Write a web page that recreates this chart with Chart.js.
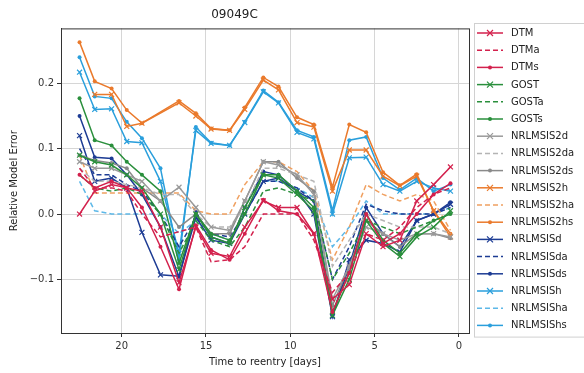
<!DOCTYPE html>
<html>
<head>
<meta charset="utf-8">
<script src="https://cdn.jsdelivr.net/npm/chart.js@4.4.0/dist/chart.umd.min.js"></script>
<style>
  html, body { margin: 0; padding: 0; background: #fff; }
  #wrap { width: 584px; height: 373px; }
</style>
</head>
<body>
<div id="wrap"><canvas id="chartOne"></canvas></div>
<script>
// time to reentry [days]
const days = [22.5, 21.6, 20.6, 19.7, 18.8, 17.7, 16.6, 15.6, 14.7, 13.6, 12.7, 11.6,
              10.7, 9.6, 8.6, 7.5, 6.5, 5.5, 4.5, 3.5, 2.5, 1.5, 0.5];
const xTicks = [0, 5, 10, 15, 20];
const yTicks = [-0.1, 0.0, 0.1, 0.2];

const DTM   = [0.0, 0.035, 0.045, 0.04, 0.035, -0.02, -0.105, -0.02, -0.06, -0.065, -0.02, 0.02, 0.01, 0.01, -0.03, -0.13, -0.108, -0.03, -0.05, -0.04, 0.02, 0.045, 0.072];
const DTMa  = [0.07, 0.04, 0.04, 0.035, 0.0, -0.035, -0.027, -0.02, -0.073, -0.07, -0.05, 0.0, 0.0, 0.0, -0.04, -0.12, -0.09, -0.03, -0.04, -0.02, 0.01, 0.03, 0.04];
const DTMs  = [0.06, 0.04, 0.05, 0.04, 0.01, -0.05, -0.115, -0.017, -0.055, -0.07, -0.03, 0.022, 0.005, 0.0, -0.03, -0.15, -0.09, 0.0, -0.045, -0.03, 0.0, 0.03, 0.047];
const GOST  = [0.09, 0.08, 0.075, 0.06, 0.04, 0.0, -0.085, 0.0, -0.035, -0.045, 0.01, 0.06, 0.055, 0.03, 0.005, -0.155, -0.1, -0.01, -0.045, -0.065, -0.035, -0.02, 0.005];
const GOSTa = [0.06, 0.04, 0.035, 0.04, 0.03, 0.0, -0.06, -0.01, -0.04, -0.05, -0.02, 0.035, 0.04, 0.03, 0.02, -0.1, -0.06, -0.01, -0.02, -0.03, -0.02, -0.01, 0.0];
const GOSTs = [0.177, 0.113, 0.105, 0.08, 0.06, 0.035, -0.075, 0.0, -0.03, -0.04, 0.0, 0.06, 0.06, 0.035, 0.01, -0.15, -0.09, 0.0, -0.04, -0.06, -0.03, -0.01, 0.0];
const NRLMSIS2d  = [0.08, 0.07, 0.07, 0.06, 0.05, 0.02, 0.041, 0.01, -0.02, -0.025, 0.02, 0.08, 0.075, 0.06, 0.03, -0.13, -0.08, -0.02, -0.03, -0.04, -0.03, -0.03, -0.035];
const NRLMSIS2da = [0.07, 0.05, 0.05, 0.045, 0.04, 0.03, 0.03, 0.0, -0.02, -0.02, 0.01, 0.07, 0.07, 0.06, 0.05, -0.08, -0.04, 0.0, -0.01, -0.02, -0.02, -0.02, -0.03];
const NRLMSIS2ds = [0.09, 0.082, 0.078, 0.07, 0.04, 0.02, -0.02, 0.0, -0.03, -0.03, 0.02, 0.08, 0.08, 0.055, 0.035, -0.14, -0.08, -0.01, -0.03, -0.05, -0.03, -0.03, -0.037];
const NRLMSIS2h  = [null, 0.183, 0.183, 0.134, 0.139, null, 0.17, 0.15, 0.13, 0.128, 0.16, 0.205, 0.19, 0.14, 0.133, 0.035, 0.098, 0.098, 0.058, 0.043, 0.058, 0.005, -0.035];
const NRLMSIS2ha = [0.09, 0.032, 0.032, 0.032, 0.032, 0.032, 0.032, 0.005, 0.0, 0.0, 0.045, 0.08, 0.08, 0.065, 0.035, -0.07, -0.02, 0.045, 0.03, 0.02, 0.03, 0.02, -0.025];
const NRLMSIS2hs = [0.263, 0.203, 0.192, 0.159, 0.139, null, 0.173, 0.154, 0.131, 0.128, 0.163, 0.209, 0.195, 0.148, 0.137, 0.041, 0.137, 0.125, 0.064, 0.044, 0.061, 0.005, -0.03];
const NRLMSISd  = [0.12, 0.05, 0.055, 0.04, -0.028, -0.093, -0.095, -0.005, -0.04, -0.045, 0.0, 0.05, 0.055, 0.035, 0.0, -0.157, -0.07, -0.04, -0.045, -0.058, -0.01, 0.0, 0.015];
const NRLMSISda = [0.1, 0.06, 0.06, 0.045, 0.035, 0.0, -0.05, -0.005, -0.03, -0.035, 0.0, 0.05, 0.05, 0.04, 0.02, -0.1, -0.05, 0.015, 0.005, 0.0, 0.0, 0.0, 0.01];
const NRLMSISds = [0.15, 0.087, 0.085, 0.06, 0.03, -0.02, -0.096, 0.003, -0.035, -0.045, 0.01, 0.065, 0.06, 0.035, 0.02, -0.155, -0.08, 0.01, -0.03, -0.05, -0.01, 0.0, 0.018];
const NRLMSISh  = [0.217, 0.16, 0.161, 0.111, 0.109, 0.05, -0.06, 0.128, 0.108, 0.105, 0.14, 0.187, 0.17, 0.125, 0.115, 0.0, 0.086, 0.087, 0.045, 0.035, 0.05, 0.04, 0.035];
const NRLMSISha = [0.05, 0.005, 0.0, 0.0, 0.0, 0.0, -0.03, -0.01, -0.03, -0.04, 0.0, 0.05, 0.05, 0.04, 0.025, -0.05, -0.02, 0.02, 0.0, 0.0, 0.0, 0.0, 0.01];
const NRLMSIShs = [0.24, 0.18, 0.177, 0.141, 0.116, 0.07, -0.07, 0.133, 0.109, 0.105, 0.141, 0.189, 0.171, 0.128, 0.118, 0.005, 0.113, 0.118, 0.055, 0.037, 0.055, 0.035, 0.045];

const red = '#d3214d', green = '#2a8f3c', grey = '#9a9a9a', orange = '#ea7a2c', navy = '#1d3c94', sky = '#2a9fdc';

function ds(label, vals, color, kind) {
  let d = {
    label: label,
    data: days.map((t, i) => ({x: t, y: vals[i]})),
    borderColor: color,
    backgroundColor: color,
    borderWidth: 1.5,
    spanGaps: true,
    tension: 0,
    kind: kind
  };
  if (kind == 'x') { d.pointStyle = 'crossRot'; d.pointRadius = 3.5; d.pointBorderWidth = 1.2; }
  if (kind == 'a') { d.pointRadius = 0; d.borderDash = [5, 3]; }
  if (kind == 's') { d.pointStyle = 'circle'; d.pointRadius = 2; d.pointBorderWidth = 0; }
  return d;
}

const datasets = [
  ds('DTM', DTM, red, 'x'), ds('DTMa', DTMa, red, 'a'), ds('DTMs', DTMs, red, 's'),
  ds('GOST', GOST, green, 'x'), ds('GOSTa', GOSTa, green, 'a'), ds('GOSTs', GOSTs, green, 's'),
  ds('NRLMSIS2d', NRLMSIS2d, grey, 'x'), ds('NRLMSIS2da', NRLMSIS2da, '#b4b4b4', 'a'), ds('NRLMSIS2ds', NRLMSIS2ds, '#8a8a8a', 's'),
  ds('NRLMSIS2h', NRLMSIS2h, orange, 'x'), ds('NRLMSIS2ha', NRLMSIS2ha, '#f0a060', 'a'), ds('NRLMSIS2hs', NRLMSIS2hs, orange, 's'),
  ds('NRLMSISd', NRLMSISd, navy, 'x'), ds('NRLMSISda', NRLMSISda, navy, 'a'), ds('NRLMSISds', NRLMSISds, navy, 's'),
  ds('NRLMSISh', NRLMSISh, sky, 'x'), ds('NRLMSISha', NRLMSISha, '#5db8e8', 'a'), ds('NRLMSIShs', NRLMSIShs, sky, 's')
];

// frame around the plot + matplotlib style legend box on the right
const framePlugin = {
  id: 'frame',
  afterDraw(chart) {
    const ctx = chart.ctx, a = chart.chartArea;
    ctx.save();
    ctx.strokeStyle = '#333';
    ctx.lineWidth = 1;
    ctx.strokeRect(a.left + 0.5, a.top + 0.5, a.right - a.left, a.bottom - a.top);

    // legend
    const lx = 474, ly = 23, rowH = 17.2;
    ctx.strokeStyle = '#d0d0d0';
    ctx.fillStyle = 'rgba(255,255,255,0.9)';
    ctx.fillRect(lx, ly, 120, rowH * 18 + 4);
    ctx.strokeRect(lx + 0.5, ly + 0.5, 120, rowH * 18 + 4);
    ctx.font = '10px "DejaVu Sans"';
    ctx.textBaseline = 'middle';
    chart.data.datasets.forEach((d, i) => {
      const y = ly + 10 + rowH * i;
      ctx.strokeStyle = d.borderColor;
      ctx.lineWidth = 1.5;
      ctx.setLineDash(d.borderDash || []);
      ctx.beginPath();
      ctx.moveTo(477, y);
      ctx.lineTo(503, y);
      ctx.stroke();
      ctx.setLineDash([]);
      if (d.kind == 'x') {
        ctx.lineWidth = 1.2;
        ctx.beginPath();
        ctx.moveTo(487, y - 3); ctx.lineTo(493, y + 3);
        ctx.moveTo(493, y - 3); ctx.lineTo(487, y + 3);
        ctx.stroke();
      }
      if (d.kind == 's') {
        ctx.fillStyle = d.borderColor;
        ctx.beginPath();
        ctx.arc(490, y, 2, 0, Math.PI * 2);
        ctx.fill();
      }
      ctx.fillStyle = '#222';
      ctx.fillText(d.label, 511, y + 0.5);
    });
    ctx.restore();
  }
};

let ctx = document.getElementById('chartOne').getContext('2d');

let errChart = new Chart(ctx, {
  type: 'line',
  data: { datasets: datasets },
  plugins: [framePlugin],
  options: {
    responsive: true,
    maintainAspectRatio: false,
    animation: false,
    layout: { padding: { left: 0, right: 115, top: 0, bottom: 0 } },
    plugins: {
      legend: { display: false },
      tooltip: { enabled: false },
      title: {
        display: true,
        text: '09049C',
        color: '#222',
        font: { family: 'DejaVu Sans', size: 12, weight: 'normal' },
        padding: { top: 8, bottom: 6 }
      }
    },
    scales: {
      x: {
        type: 'linear',
        reverse: true,
        min: -0.6,
        max: 23.6,
        afterBuildTicks: s => { s.ticks = xTicks.map(v => ({value: v})); },
        afterFit: s => { s.height = 40; },
        ticks: { color: '#333', font: { family: 'DejaVu Sans', size: 10 }, padding: 3 },
        grid: { color: '#d6d6d6', tickColor: '#333', tickLength: 4 },
        border: { color: '#333' },
        title: { display: true, text: 'Time to reentry [days]', color: '#222',
                 font: { family: 'DejaVu Sans', size: 10 }, padding: { top: 2, bottom: 5 } }
      },
      y: {
        min: -0.182,
        max: 0.284,
        afterBuildTicks: s => { s.ticks = yTicks.map(v => ({value: v})); },
        afterFit: s => { s.width = 61; },
        ticks: {
          color: '#333', font: { family: 'DejaVu Sans', size: 10 }, padding: 3,
          callback: v => v.toFixed(1).replace('-', '\u2212')
        },
        grid: { color: '#d6d6d6', tickColor: '#333', tickLength: 4 },
        border: { color: '#333' },
        title: { display: true, text: 'Relative Model Error', color: '#222',
                 font: { family: 'DejaVu Sans', size: 10 }, padding: { top: 8, bottom: 0 } }
      }
    }
  }
});
</script>
</body>
</html>
